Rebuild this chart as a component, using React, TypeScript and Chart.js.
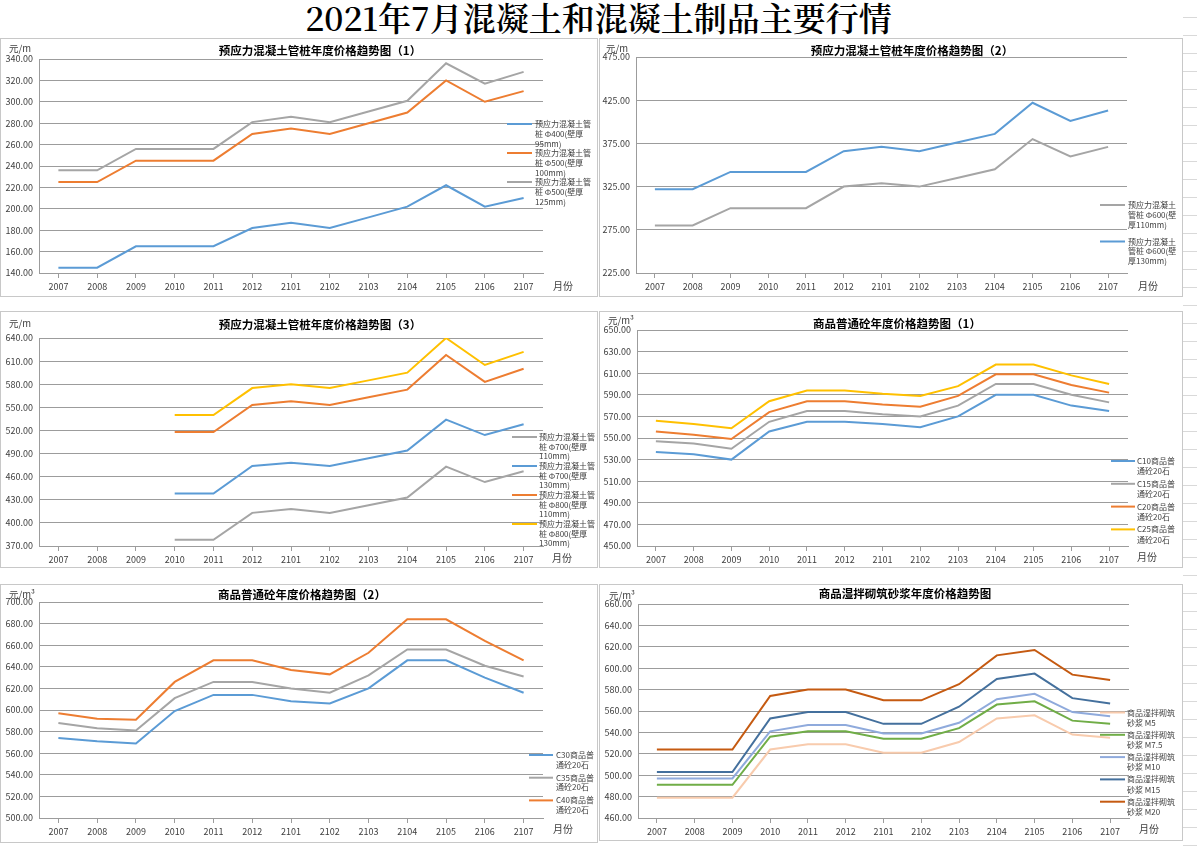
import React, { useEffect, useRef } from "react";
import { Chart, registerables } from "chart.js";

Chart.register(...registerables);

// ---------------- DATA ----------------
const CATEGORIES = ["2007", "2008", "2009", "2010", "2011", "2012", "2101", "2102", "2103", "2104", "2105", "2106", "2107"];

// Panel 1 – 预应力混凝土管桩 (1)
const P1_PHI400_95 = [145, 145, 165, 165, 165, 182, 187, 182, 192, 202, 222, 202, 210];
const P1_PHI500_100 = [225, 225, 245, 245, 245, 270, 275, 270, 280, 290, 320, 300, 310];
const P1_PHI500_125 = [236, 236, 256, 256, 256, 281, 286, 281, 291, 301, 336, 317, 328];
const P1_Y_TICKS = [140, 160, 180, 200, 220, 240, 260, 280, 300, 320, 340];

// Panel 2 – 预应力混凝土管桩 (2)
const P2_PHI600_110 = [280, 280, 300, 300, 300, 325, 329, 325, 335, 345, 380, 360, 371];
const P2_PHI600_130 = [322, 322, 342, 342, 342, 366, 371, 366, 376, 386, 422, 401, 413];
const P2_Y_TICKS = [225, 275, 325, 375, 425, 475];

// Panel 3 – 预应力混凝土管桩 (3)
const P3_PHI700_110 = [null, null, null, 378, 378, 413, 418, 413, 423, 433, 473, 453, 467];
const P3_PHI700_130 = [null, null, null, 438, 438, 474, 478, 474, 484, 494, 534, 514, 528];
const P3_PHI800_110 = [null, null, null, 518, 518, 553, 558, 553, 563, 573, 618, 583, 600];
const P3_PHI800_130 = [null, null, null, 540, 540, 575, 580, 575, 585, 595, 640, 605, 622];
const P3_Y_TICKS = [370, 400, 430, 460, 490, 520, 550, 580, 610, 640];

// Panel 4 – 商品普通砼 (1)
const P4_C10 = [537, 535, 530, 556, 565, 565, 563, 560, 570, 590, 590, 580, 575];
const P4_C15 = [547, 545, 540, 565, 575, 575, 572, 570, 580, 600, 600, 590, 583];
const P4_C20 = [556, 553, 549, 574, 584, 584, 581, 579, 589, 609, 609, 599, 592];
const P4_C25 = [566, 563, 559, 584, 594, 594, 591, 589, 598, 618, 618, 608, 600];
const P4_Y_TICKS = [450, 470, 490, 510, 530, 550, 570, 590, 610, 630, 650];

// Panel 5 – 商品普通砼 (2)
const P5_C30 = [574, 571, 569, 599, 614, 614, 608, 606, 620, 646, 646, 630, 616];
const P5_C35 = [588, 583, 581, 611, 626, 626, 620, 616, 632, 656, 656, 641, 631];
const P5_C40 = [597, 592, 591, 626, 646, 646, 637, 633, 653, 684, 684, 664, 646];
const P5_Y_TICKS = [500, 520, 540, 560, 580, 600, 620, 640, 660, 680, 700];

// Panel 6 – 商品湿拌砌筑砂浆
const P6_M5 = [479, 479, 479, 524, 529, 529, 521, 521, 531, 553, 556, 538, 535];
const P6_M7_5 = [491, 491, 491, 536, 541, 541, 534, 534, 544, 566, 569, 551, 548];
const P6_M10 = [497, 497, 497, 541, 547, 547, 539, 539, 549, 571, 576, 559, 555];
const P6_M15 = [503, 503, 503, 553, 559, 559, 548, 548, 564, 590, 595, 572, 567];
const P6_M20 = [524, 524, 524, 574, 580, 580, 570, 570, 585, 612, 617, 594, 589];
const P6_Y_TICKS = [460, 480, 500, 520, 540, 560, 580, 600, 620, 640, 660];

// ---------------- TEXT ----------------
const MAIN_TITLE = "2021年7月混凝土和混凝土制品主要行情";
const X_UNIT = "月份";

// ---------------- STYLE ----------------
const BLUE = "#5B9BD5";
const ORANGE = "#ED7D31";
const GRAY = "#A5A5A5";
const YELLOW = "#FFC000";
const GRID = "#9C9C9C";
const TXT = "#404040";
const FONT = '"Noto Sans CJK SC", "Noto Sans", sans-serif';

type Series = { label: string; legend: string[]; color: string; data: (number | null)[] };
type PanelCfg = {
  title: string;
  unit: string;
  yTicks: number[];
  series: Series[];
  box: [number, number, number, number]; // x, y, w, h (page)
  plot: [number, number, number, number]; // l, t, r, b (page)
  titlePos: [number, number];
  unitPos: [number, number];
  monthPos: [number, number];
  legend: { x1: number; x2: number; tx: number; y0: number; gap: number; lh: number };
};

const PANELS: PanelCfg[] = [
  {
    title: "预应力混凝土管桩年度价格趋势图（1）",
    unit: "元/m",
    yTicks: P1_Y_TICKS,
    series: [
      { label: "预应力混凝土管桩Φ400(壁厚95mm)", legend: ["预应力混凝土管", "桩 Φ400(壁厚", "95mm)"], color: BLUE, data: P1_PHI400_95 },
      { label: "预应力混凝土管桩Φ500(壁厚100mm)", legend: ["预应力混凝土管", "桩 Φ500(壁厚", "100mm)"], color: ORANGE, data: P1_PHI500_100 },
      { label: "预应力混凝土管桩Φ500(壁厚125mm)", legend: ["预应力混凝土管", "桩 Φ500(壁厚", "125mm)"], color: GRAY, data: P1_PHI500_125 },
    ],
    box: [0, 38, 598, 259],
    plot: [39, 59, 543, 273],
    titlePos: [320, 51],
    unitPos: [9, 48],
    monthPos: [563, 286],
    legend: { x1: 507, x2: 532, tx: 535, y0: 124, gap: 29, lh: 10.2 },
  },
  {
    title: "预应力混凝土管桩年度价格趋势图（2）",
    unit: "元/m",
    yTicks: P2_Y_TICKS,
    series: [
      { label: "预应力混凝土管桩Φ600(壁厚110mm)", legend: ["预应力混凝土", "管桩 Φ600(壁", "厚110mm)"], color: GRAY, data: P2_PHI600_110 },
      { label: "预应力混凝土管桩Φ600(壁厚130mm)", legend: ["预应力混凝土", "管桩 Φ600(壁", "厚130mm)"], color: BLUE, data: P2_PHI600_130 },
    ],
    box: [599, 38, 584, 259],
    plot: [636, 57, 1127, 273],
    titlePos: [912, 51],
    unitPos: [606, 48],
    monthPos: [1148, 286],
    legend: { x1: 1100, x2: 1125, tx: 1128, y0: 205, gap: 36.5, lh: 9.8 },
  },
  {
    title: "预应力混凝土管桩年度价格趋势图（3）",
    unit: "元/m",
    yTicks: P3_Y_TICKS,
    series: [
      { label: "预应力混凝土管桩Φ700(壁厚110mm)", legend: ["预应力混凝土管", "桩 Φ700(壁厚", "110mm)"], color: GRAY, data: P3_PHI700_110 },
      { label: "预应力混凝土管桩Φ700(壁厚130mm)", legend: ["预应力混凝土管", "桩 Φ700(壁厚", "130mm)"], color: BLUE, data: P3_PHI700_130 },
      { label: "预应力混凝土管桩Φ800(壁厚110mm)", legend: ["预应力混凝土管", "桩 Φ800(壁厚", "110mm)"], color: ORANGE, data: P3_PHI800_110 },
      { label: "预应力混凝土管桩Φ800(壁厚130mm)", legend: ["预应力混凝土管", "桩 Φ800(壁厚", "130mm)"], color: YELLOW, data: P3_PHI800_130 },
    ],
    box: [0, 311, 598, 257],
    plot: [39, 338, 543, 546],
    titlePos: [320, 325],
    unitPos: [9, 323],
    monthPos: [562, 558],
    legend: { x1: 512, x2: 537, tx: 539, y0: 437, gap: 29, lh: 9.6 },
  },
  {
    title: "商品普通砼年度价格趋势图（1）",
    unit: "元/m³",
    yTicks: P4_Y_TICKS,
    series: [
      { label: "C10商品普通砼20石", legend: ["C10商品普", "通砼20石"], color: BLUE, data: P4_C10 },
      { label: "C15商品普通砼20石", legend: ["C15商品普", "通砼20石"], color: GRAY, data: P4_C15 },
      { label: "C20商品普通砼20石", legend: ["C20商品普", "通砼20石"], color: ORANGE, data: P4_C20 },
      { label: "C25商品普通砼20石", legend: ["C25商品普", "通砼20石"], color: YELLOW, data: P4_C25 },
    ],
    box: [599, 311, 584, 257],
    plot: [637, 330, 1128, 546],
    titlePos: [897, 324],
    unitPos: [608, 320],
    monthPos: [1147, 557],
    legend: { x1: 1111, x2: 1135, tx: 1137, y0: 461, gap: 22.8, lh: 10.4 },
  },
  {
    title: "商品普通砼年度价格趋势图（2）",
    unit: "元/m³",
    yTicks: P5_Y_TICKS,
    series: [
      { label: "C30商品普通砼20石", legend: ["C30商品普", "通砼20石"], color: BLUE, data: P5_C30 },
      { label: "C35商品普通砼20石", legend: ["C35商品普", "通砼20石"], color: GRAY, data: P5_C35 },
      { label: "C40商品普通砼20石", legend: ["C40商品普", "通砼20石"], color: ORANGE, data: P5_C40 },
    ],
    box: [0, 584, 598, 259],
    plot: [39, 602, 543, 818],
    titlePos: [302, 595],
    unitPos: [9, 594],
    monthPos: [563, 829],
    legend: { x1: 529, x2: 553, tx: 556, y0: 755, gap: 22.7, lh: 9.6 },
  },
  {
    title: "商品湿拌砌筑砂浆年度价格趋势图",
    unit: "元/m³",
    yTicks: P6_Y_TICKS,
    series: [
      { label: "商品湿拌砌筑砂浆 M5", legend: ["商品湿拌砌筑", "砂浆 M5"], color: "#F8CBAD", data: P6_M5 },
      { label: "商品湿拌砌筑砂浆 M7.5", legend: ["商品湿拌砌筑", "砂浆 M7.5"], color: "#70AD47", data: P6_M7_5 },
      { label: "商品湿拌砌筑砂浆 M10", legend: ["商品湿拌砌筑", "砂浆 M10"], color: "#8FAADC", data: P6_M10 },
      { label: "商品湿拌砌筑砂浆 M15", legend: ["商品湿拌砌筑", "砂浆 M15"], color: "#44709D", data: P6_M15 },
      { label: "商品湿拌砌筑砂浆 M20", legend: ["商品湿拌砌筑", "砂浆 M20"], color: "#C55A11", data: P6_M20 },
    ],
    box: [599, 584, 584, 257],
    plot: [638, 604, 1129, 818],
    titlePos: [905, 594],
    unitPos: [609, 595],
    monthPos: [1149, 829],
    legend: { x1: 1100, x2: 1125, tx: 1127, y0: 712.5, gap: 22.3, lh: 10.3 },
  },
];

function Panel({ cfg }: { cfg: PanelCfg }) {
  const ref = useRef<HTMLCanvasElement>(null);
  const [bx, by, bw, bh] = cfg.box;

  useEffect(() => {
    const [pl, pt, pr, pb] = cfg.plot;
    const decor = {
      id: "decor",
      beforeDraw(chart: any) {
        const ctx = chart.ctx;
        ctx.save();
        ctx.fillStyle = "#ffffff";
        ctx.fillRect(0, 0, bw, bh);
        ctx.strokeStyle = "#C8C8C8";
        ctx.lineWidth = 1;
        ctx.strokeRect(0.5, 0.5, bw - 1, bh - 1);
        ctx.restore();
      },
      afterDraw(chart: any) {
        const ctx = chart.ctx;
        ctx.save();
        // title
        ctx.fillStyle = "#000000";
        ctx.font = `bold 11.5px ${FONT}`;
        ctx.textAlign = "center";
        ctx.textBaseline = "middle";
        ctx.fillText(cfg.title, cfg.titlePos[0] - bx, cfg.titlePos[1] - by);
        // unit
        ctx.fillStyle = TXT;
        ctx.font = `9.5px ${FONT}`;
        ctx.textAlign = "left";
        ctx.fillText(cfg.unit, cfg.unitPos[0] - bx, cfg.unitPos[1] - by);
        // month label
        ctx.textAlign = "center";
        ctx.font = `10px ${FONT}`;
        ctx.fillText(X_UNIT, cfg.monthPos[0] - bx, cfg.monthPos[1] - by);
        // legend
        const L = cfg.legend;
        ctx.font = `8px ${FONT}`;
        ctx.textAlign = "left";
        cfg.series.forEach((s, i) => {
          const y = L.y0 + i * L.gap - by;
          ctx.strokeStyle = s.color;
          ctx.lineWidth = 2;
          ctx.beginPath();
          ctx.moveTo(L.x1 - bx, y);
          ctx.lineTo(L.x2 - bx, y);
          ctx.stroke();
          ctx.fillStyle = TXT;
          s.legend.forEach((line, k) => {
            ctx.fillText(line, L.tx - bx, y + k * L.lh);
          });
        });
        ctx.restore();
      },
    };

    const chart = new Chart(ref.current as HTMLCanvasElement, {
      type: "line",
      data: {
        labels: CATEGORIES,
        datasets: cfg.series.map((s) => ({
          label: s.label,
          data: s.data as any,
          borderColor: s.color,
          backgroundColor: s.color,
          borderWidth: 2,
          pointRadius: 0,
          pointHoverRadius: 0,
          tension: 0,
          fill: false,
        })),
      },
      options: {
        animation: false,
        responsive: false,
        maintainAspectRatio: false,
        events: [],
        layout: { padding: { left: 0, top: pt - by, right: bx + bw - pr, bottom: 0 } },
        plugins: {
          legend: { display: false },
          title: { display: false },
          tooltip: { enabled: false },
        },
        scales: {
          x: {
            type: "category",
            offset: true,
            grid: { display: true, drawOnChartArea: false, drawTicks: true, tickLength: 5, color: GRID },
            border: { display: true, color: GRID, width: 1 },
            ticks: { color: TXT, font: { size: 9, family: FONT }, padding: 3, maxRotation: 0, autoSkip: false },
            afterFit: (s: any) => {
              s.height = by + bh - pb;
            },
          },
          y: {
            type: "linear",
            min: cfg.yTicks[0],
            max: cfg.yTicks[cfg.yTicks.length - 1],
            afterBuildTicks: (s: any) => {
              s.ticks = cfg.yTicks.map((v) => ({ value: v }));
            },
            ticks: {
              color: TXT,
              font: { size: 9, family: FONT },
              padding: 6,
              callback: (v: any) => Number(v).toFixed(2),
            },
            grid: { color: GRID, drawTicks: false, lineWidth: 1 },
            border: { display: true, color: GRID, width: 1 },
            afterFit: (s: any) => {
              s.width = pl - bx;
            },
          },
        },
      },
      plugins: [decor],
    });
    return () => chart.destroy();
  }, []);

  return (
    <canvas
      ref={ref}
      width={bw}
      height={bh}
      style={{ position: "absolute", left: bx, top: by, width: bw, height: bh }}
    />
  );
}

export default function App() {
  return (
    <div
      style={{
        position: "fixed",
        left: 0,
        top: 0,
        width: 1197,
        height: 847,
        background: "#ffffff",
        overflow: "hidden",
      }}
    >
      <div
        style={{
          position: "absolute",
          right: 0,
          top: 0,
          width: 14,
          height: 847,
          backgroundImage: "repeating-linear-gradient(to bottom, #ffffff 0px, #ffffff 17px, #D9D9D9 17px, #D9D9D9 18px)",
        }}
      />
      <div
        style={{
          position: "absolute",
          left: 0,
          top: 0,
          width: 1197,
          height: 34,
          textAlign: "center",
          fontFamily: '"Noto Serif CJK SC", "Noto Sans CJK SC", serif',
          fontSize: 33,
          fontWeight: 600,
          lineHeight: "34px",
          color: "#000",
        }}
      >
        {MAIN_TITLE}
      </div>
      {PANELS.map((p, i) => (
        <Panel key={i} cfg={p} />
      ))}
    </div>
  );
}
